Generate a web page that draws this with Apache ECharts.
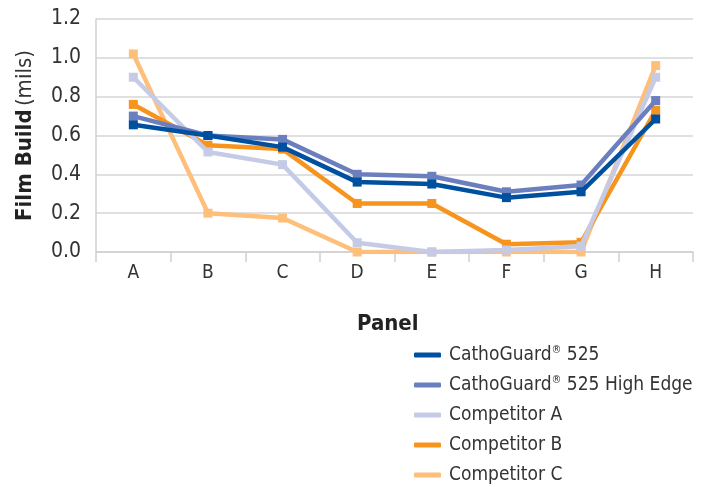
<!DOCTYPE html>
<html><head><meta charset="utf-8">
<script src="https://cdn.jsdelivr.net/npm/echarts@6/dist/echarts.min.js"></script>
<style>html,body{margin:0;padding:0;background:#fff}#c{width:708px;height:487px}</style>
</head><body><div id="c"></div>
<script>
const categories = ['A','B','C','D','E','F','G','H'];
const yTicks = ['0.0','0.2','0.4','0.6','0.8','1.0','1.2'];
const seriesNames = ['CathoGuard® 525','CathoGuard® 525 High Edge','Competitor A','Competitor B','Competitor C'];
const cathoGuard525 = [0.655, 0.60, 0.54, 0.36, 0.35, 0.28, 0.31, 0.685];
const cathoGuardHighEdge = [0.70, 0.60, 0.58, 0.40, 0.39, 0.31, 0.345, 0.78];
const competitorA = [0.90, 0.515, 0.45, 0.048, 0.0, 0.01, 0.03, 0.90];
const competitorB = [0.76, 0.55, 0.53, 0.25, 0.25, 0.04, 0.05, 0.73];
const competitorC = [1.02, 0.20, 0.175, 0.0, 0.0, 0.0, 0.0, 0.96];

const colors = ['#0050a0','#6b7fbf','#c5cbe6','#f7941d','#fdbf7a'];
const font = '"Liberation Sans Narrow","DejaVu Sans Condensed",sans-serif';
const dataSets = [cathoGuard525, cathoGuardHighEdge, competitorA, competitorB, competitorC];
const order = [4,3,2,1,0];
const series = order.map(i => ({
  name: seriesNames[i], type: 'line', data: dataSets[i],
  symbol: 'rect', symbolSize: 9, z: 10 - i,
  lineStyle: {color: colors[i], width: 4.5},
  itemStyle: {color: colors[i]},
  animation: false
}));

const chart = echarts.init(document.getElementById('c'));
chart.setOption({
  animation: false,
  color: colors,
  title: {text: 'Panel', left: 357, top: 313, padding: 0,
    textStyle: {fontFamily: font, fontSize: 22, fontWeight: 'bold', color: '#222'}},
  grid: {left: 96, right: 15, top: 19, bottom: 235, containLabel: false},
  legend: {
    orient: 'vertical', left: 414, top: 345, height: 160, padding: 0,
    data: seriesNames, icon: 'roundRect', itemWidth: 27, itemHeight: 5, itemGap: 10,
    textStyle: {fontFamily: font, fontSize: 19, color: '#333', lineHeight: 20, padding: [0,0,0,3],
      rich: {t: {fontFamily: font, fontSize: 19, color: '#333', lineHeight: 20},
             s: {fontFamily: font, fontSize: 11, color: '#333', verticalAlign: 'top', padding: [0,0,8,0]}}},
    formatter: n => n.includes('®') ? n.split('®').map((p, k) => (k ? '{s|®}' : '') + '{t|' + p + '}').join('') : n
  },
  xAxis: {
    type: 'category', data: categories, boundaryGap: true,
    axisLine: {lineStyle: {color: '#d0d0d0', width: 1.5}},
    axisTick: {show: true, length: 10, lineStyle: {color: '#d0d0d0', width: 1.5}},
    axisLabel: {fontFamily: font, fontSize: 19, color: '#333', margin: 12}
  },
  yAxis: {
    type: 'value', min: 0, max: 1.2, interval: 0.2,
    name: '{b|Film Build} {r|(mils)}', nameLocation: 'middle', nameGap: 60, nameRotate: 90,
    nameTextStyle: {rich: {b: {fontFamily: font, fontSize: 22, fontWeight: 'bold', color: '#222'},
                           r: {fontFamily: font, fontSize: 22, color: '#333'}}},
    axisLine: {show: true, lineStyle: {color: '#d0d0d0', width: 1.5}},
    axisTick: {show: false},
    splitLine: {lineStyle: {color: '#d6d6d6', width: 1.5}},
    axisLabel: {fontFamily: font, fontSize: 21, color: '#333', margin: 15,
      formatter: v => yTicks[Math.round(v / 0.2)]}
  },
  series: series
});
</script></body></html>
